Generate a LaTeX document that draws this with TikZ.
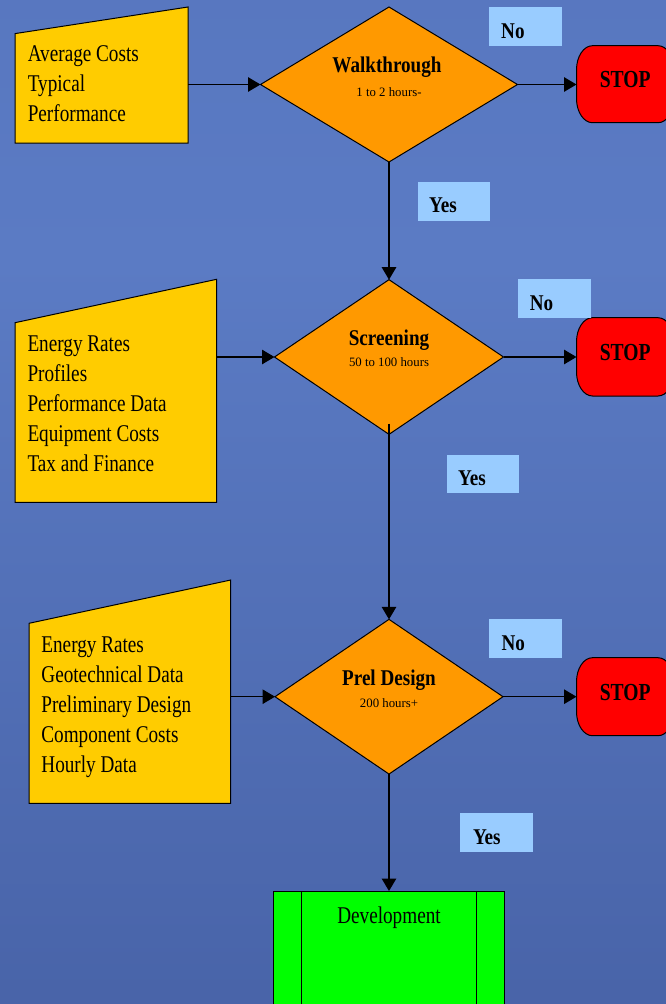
\documentclass[tikz,border=0pt]{standalone}
\usepackage{fontspec}
\setmainfont{Liberation Serif}
\newfontfamily\cond{Liberation Serif}[FakeStretch=0.8]
\newfontfamily\condb{Liberation Serif}[FakeStretch=0.85]
\usetikzlibrary{shapes.geometric,arrows.meta,calc}
\pgfdeclarelayer{bgzero}
\pgfdeclarelayer{background}
\pgfsetlayers{bgzero,background,main}
\definecolor{bgtop}{RGB}{82,112,184}
\definecolor{bgmid}{RGB}{91,123,196}
\definecolor{bgbot}{RGB}{60,84,150}
\definecolor{inyellow}{RGB}{255,204,0}
\definecolor{decorange}{RGB}{255,153,0}
\definecolor{stopred}{RGB}{255,0,0}
\definecolor{devgreen}{RGB}{0,255,0}
\definecolor{lblblue}{RGB}{153,204,255}
\pgfdeclareverticalshading{bgshade}{100bp}{color(0bp)=(bgbot); color(62bp)=(bgmid); color(100bp)=(bgtop)}
\newcommand\drawstop[1]{%
  \filldraw[stopshape] ([xshift=16pt]#1.north west) -- ([xshift=-16pt]#1.north east)
    .. controls ([xshift=-7.2pt]#1.north east) and ([yshift=-10.8pt]#1.north east) .. ([yshift=-24pt]#1.north east)
    -- ([yshift=24pt]#1.south east)
    .. controls ([yshift=10.8pt]#1.south east) and ([xshift=-7.2pt]#1.south east) .. ([xshift=-16pt]#1.south east)
    -- ([xshift=16pt]#1.south west)
    .. controls ([xshift=7.2pt]#1.south west) and ([yshift=10.8pt]#1.south west) .. ([yshift=24pt]#1.south west)
    -- ([yshift=-24pt]#1.north west)
    .. controls ([yshift=-10.8pt]#1.north west) and ([xshift=7.2pt]#1.north west) .. cycle;}
\newcommand\drawinput[2]{%
  \filldraw[inshape] (#1.south west) -- (#1.south east) -- (#1.north east) -- ([yshift=-#2]#1.north west) -- cycle;}
\begin{document}
\begin{tikzpicture}[x=1pt,y=-1pt,
  conn/.style={line width=1.2pt, draw=black, -{Triangle[length=12.5pt,width=14.5pt]}},
  shapeline/.style={line width=1pt, draw=black},
  region/.style={inner sep=0pt, outer sep=0pt, anchor=north west},
  inshape/.style={shapeline, fill=inyellow},
  stopshape/.style={shapeline, fill=stopred},
  decision/.style={diamond, draw=black, line width=1pt, fill=decorange, inner sep=0pt, outer sep=0pt},
  body/.style={font=\cond\fontsize{24}{30}\selectfont, align=left, inner sep=0pt, anchor=north west},
  title/.style={font=\condb\bfseries\fontsize{22.5}{27}\selectfont, inner sep=0pt, anchor=base},
  sub/.style={font=\rmfamily\fontsize{12.8}{15}\selectfont, inner sep=0pt, anchor=base},
  lbl/.style={fill=lblblue, inner sep=0pt, outer sep=0pt, anchor=north west},
  lbltext/.style={font=\condb\bfseries\fontsize{22.5}{27}\selectfont, inner sep=0pt, anchor=base west},
  stopnode/.style={region, font=\cond\bfseries\fontsize{24.5}{28}\selectfont, text height=17pt, text depth=10pt, minimum width=97.5pt},
  devbox/.style={draw=black, line width=1pt, fill=devgreen, inner sep=0pt, outer sep=0pt, anchor=north}
]
\useasboundingbox (0,0) rectangle (666,1004);
\begin{pgfonlayer}{bgzero}
  \shade[shading=bgshade] (0,0) rectangle (666,1004);
\end{pgfonlayer}

% input regions
\node[region, minimum width=173pt, minimum height=136pt] (in1) at (15,7) {};
\node[region, minimum width=201.6pt, minimum height=223pt] (in2) at (15,279.3) {};
\node[region, minimum width=201.7pt, minimum height=223.3pt] (in3) at (29,580) {};
\node[body] (in1t) at (27.6,45.8) {Average Costs\\Typical\\Performance};
\node[body] (in2t) at (27.3,335.8) {Energy Rates\\Profiles\\Performance Data\\Equipment Costs\\Tax and Finance};
\node[body] (in3t) at (41.2,636.8) {Energy Rates\\Geotechnical Data\\Preliminary Design\\Component Costs\\Hourly Data};

% decisions
\node[decision, minimum width=257pt, minimum height=155pt] (d1) at (389,84.5) {};
\node[decision, minimum width=229pt, minimum height=154.7pt] (d2) at (389,357) {};
\node[decision, minimum width=228pt, minimum height=154.7pt] (d3) at (389,696.7) {};
\node[title] (d1t) at ([xshift=-2pt,yshift=11.8pt]d1.center) {Walkthrough};
\node[sub] (d1s) at ([yshift=-11.5pt]d1.center) {1 to 2 hours-};
\node[title] (d2t) at ([yshift=11.3pt]d2.center) {Screening};
\node[sub] (d2s) at ([yshift=-9.8pt]d2.center) {50 to 100 hours};
\node[title] (d3t) at ([yshift=11.7pt]d3.center) {Prel Design};
\node[sub] (d3s) at ([yshift=-10.6pt]d3.center) {200 hours+};

% stop nodes
\node[stopnode, minimum height=77pt] (s1) at (576.5,45.7) {STOP};
\node[stopnode, minimum height=78.3pt] (s2) at (576.5,317.7) {STOP};
\node[stopnode, minimum height=78pt] (s3) at (576.5,657.7) {STOP};

% yes / no labels
\node[lbl, minimum width=73pt, minimum height=39pt] (no1) at (488.5,7) {};
\node[lbltext] (no1t) at ([shift={(12.5pt,7.7pt)}]no1.south west) {No};
\node[lbl, minimum width=72.5pt, minimum height=38.7pt] (no2) at (518,279) {};
\node[lbltext] (no2t) at ([shift={(11.7pt,7pt)}]no2.south west) {No};
\node[lbl, minimum width=72.6pt, minimum height=38.4pt] (no3) at (489,619.3) {};
\node[lbltext] (no3t) at ([shift={(12.3pt,7.7pt)}]no3.south west) {No};
\node[lbl, minimum width=72pt, minimum height=39pt] (yes1) at (418,182) {};
\node[lbltext] (yes1t) at ([shift={(11pt,8.7pt)}]yes1.south west) {Yes};
\node[lbl, minimum width=72pt, minimum height=38pt] (yes2) at (447,455) {};
\node[lbltext] (yes2t) at ([shift={(11pt,8pt)}]yes2.south west) {Yes};
\node[lbl, minimum width=73pt, minimum height=38.4pt] (yes3) at (460,813.3) {};
\node[lbltext] (yes3t) at ([shift={(12.8pt,7.7pt)}]yes3.south west) {Yes};

% development
\node[devbox, minimum width=230.3pt, minimum height=130pt] (dev) at (389,891) {};
\node[font=\cond\fontsize{24}{30}\selectfont, inner sep=0pt, anchor=base] (devt) at ([yshift=-32.3pt]dev.north) {Development};
\draw[shapeline] ([xshift=27.6pt]dev.north west) -- ([xshift=27.6pt]dev.south west);
\draw[shapeline] ([xshift=-27.7pt]dev.north east) -- ([xshift=-27.7pt]dev.south east);

\begin{pgfonlayer}{background}
  \drawinput{in1}{26.6pt}
  \drawinput{in2}{43.4pt}
  \drawinput{in3}{43.3pt}
  \drawstop{s1}
  \drawstop{s2}
  \drawstop{s3}
\end{pgfonlayer}

% connectors
\draw[conn] (in1.east |- d1.west) -- (d1.west);
\draw[conn] (d1.east) -- (d1.east -| s1.west);
\draw[conn] (d1.south) -- (d2.north);
\draw[conn] (in2.east |- d2.west) -- (d2.west);
\draw[conn] (d2.east) -- (d2.east -| s2.west);
\draw[conn] ([yshift=10.7pt]d2.south) -- (d3.north);
\draw[conn] (in3.east |- d3.west) -- (d3.west);
\draw[conn] (d3.east) -- (d3.east -| s3.west);
\draw[conn] (d3.south) -- (dev.north);
\end{tikzpicture}
\end{document}
